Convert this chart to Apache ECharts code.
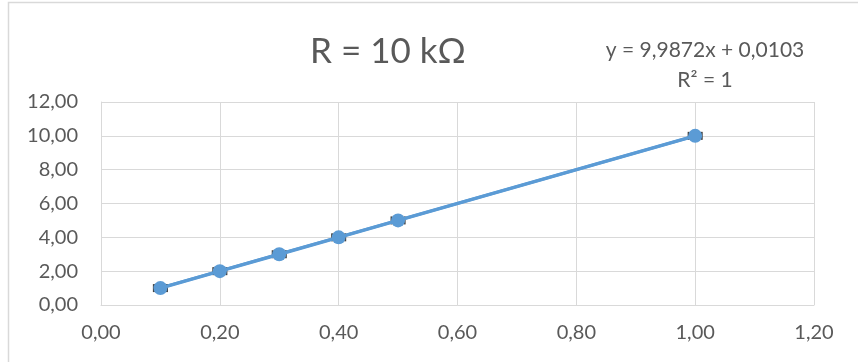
<!DOCTYPE html>
<html><head><meta charset="utf-8">
<script src="https://cdn.jsdelivr.net/npm/echarts@6/dist/echarts.min.js"></script>
<style>html,body{margin:0;padding:0;background:#fff}#c{width:858px;height:362px}</style>
</head><body><div id="c"></div>
<script>
const xValues = [0.1, 0.2, 0.3, 0.4, 0.5, 1.0];
const yValues = [1, 2, 3, 4, 5, 10];
const errX = 0.011;
const slope = 9.9872, intercept = 0.0103;
const titleText = 'R = 10 kΩ';
const eqText = 'y = 9,9872x + 0,0103';
const r2Text = 'R² = 1';

const fmt = v => v.toFixed(2).replace('.', ',');
const pts = xValues.map((x, i) => [x, yValues[i]]);
const trend = [[xValues[0], slope*xValues[0]+intercept], [xValues[xValues.length-1], slope*xValues[xValues.length-1]+intercept]];
const font = 'Lato, "Open Sans", sans-serif';
const chart = echarts.init(document.getElementById('c'));
chart.setOption({
  animation: false,
  graphic: [{type: 'rect', shape: {x: 8.5, y: 2.5, width: 900, height: 400}, style: {fill: 'none', stroke: '#D9D9D9', lineWidth: 1.5}, silent: true, z: -1}],
  title: [
    {text: titleText, left: 383, top: 29, textAlign: 'center', textStyle: {fontFamily: font, fontSize: 35, fontWeight: 'normal', color: '#595959'}},
    {text: eqText + '\n' + r2Text, left: 700, top: 30, textAlign: 'center', textStyle: {fontFamily: font, fontSize: 21, fontWeight: 'normal', color: '#595959', lineHeight: 30, align: 'center'}}
  ],
  grid: {left: 101, right: 44, top: 102, bottom: 57},
  xAxis: {type: 'value', min: 0, max: 1.2, interval: 0.2,
    axisLine: {show: true, lineStyle: {color: '#D9D9D9'}}, axisTick: {show: false},
    splitLine: {show: true, lineStyle: {color: '#D9D9D9', width: 1}},
    axisLabel: {formatter: fmt, color: '#595959', fontFamily: font, fontSize: 20, margin: 18}},
  yAxis: {type: 'value', min: 0, max: 12, interval: 2,
    axisLine: {show: true, lineStyle: {color: '#D9D9D9'}}, axisTick: {show: false},
    splitLine: {show: true, lineStyle: {color: '#D9D9D9', width: 1}},
    axisLabel: {formatter: fmt, color: '#595959', fontFamily: font, fontSize: 20, margin: 23}},
  series: [
    {type: 'line', data: trend, symbol: 'none', lineStyle: {color: '#5B9BD5', width: 3}, z: 2},
    {type: 'custom', data: pts, z: 3,
      renderItem: (params, api) => {
        const x = api.value(0), y = api.value(1);
        const a = api.coord([x - errX, y]), b = api.coord([x + errX, y]);
        const st = {stroke: '#404040', lineWidth: 2};
        return {type: 'group', children: [
          {type: 'line', shape: {x1: a[0], y1: a[1], x2: b[0], y2: b[1]}, style: st},
          {type: 'line', shape: {x1: a[0], y1: a[1]-4, x2: a[0], y2: a[1]+4}, style: st},
          {type: 'line', shape: {x1: b[0], y1: b[1]-4, x2: b[0], y2: b[1]+4}, style: st}
        ]};
      }},
    {type: 'line', data: pts, symbol: 'circle', symbolSize: 14, itemStyle: {color: '#5B9BD5'}, lineStyle: {color: '#5B9BD5', width: 3.5}, z: 4}
  ]
});
</script></body></html>
